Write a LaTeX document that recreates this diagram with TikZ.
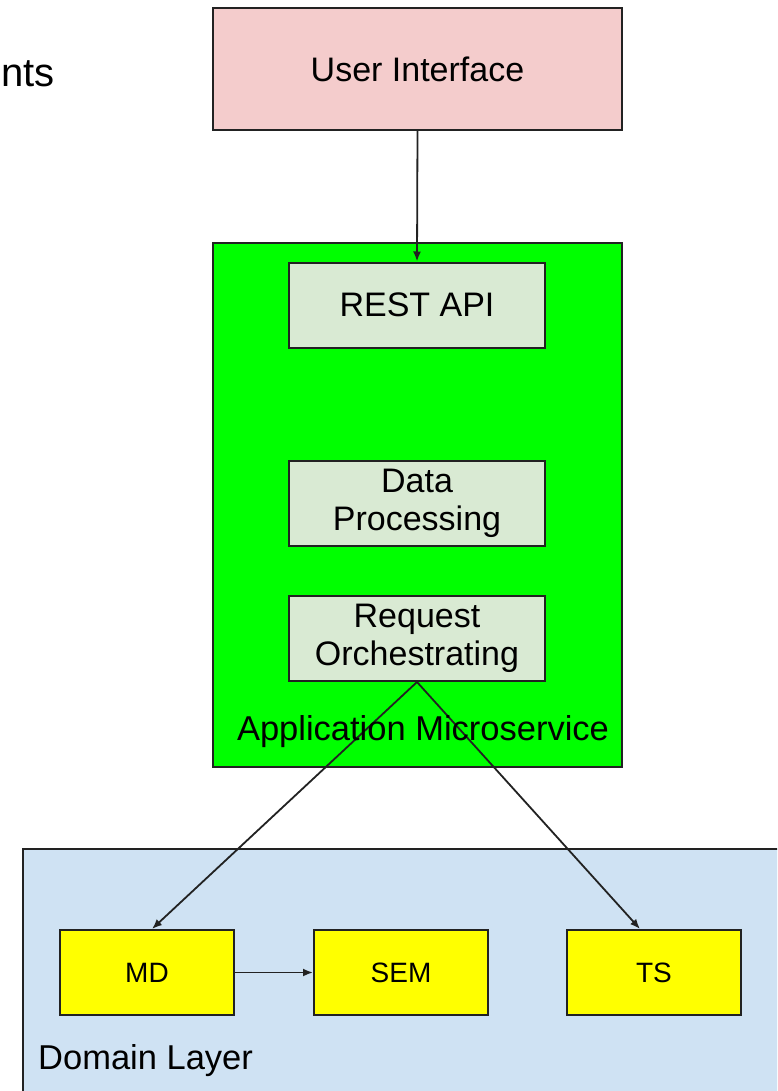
\documentclass[tikz,border=0pt]{standalone}
\usepackage{fontspec}
\setmainfont{Liberation Sans}
\usetikzlibrary{arrows.meta}
\definecolor{uipink}{HTML}{F4CCCC}
\definecolor{appgreen}{HTML}{00FF00}
\definecolor{modpale}{HTML}{D9EAD3}
\definecolor{domblue}{HTML}{CFE2F3}
\definecolor{compyellow}{HTML}{FFFF00}
\definecolor{edge}{HTML}{222222}
\tikzset{
  box/.style={draw=edge, line width=2pt, inner sep=0pt, align=center,
    font=\fontsize{34}{38}\selectfont},
  module/.style={box, fill=modpale, minimum width=256pt, minimum height=85pt},
  comp/.style={box, fill=compyellow, minimum width=174pt, minimum height=85pt,
    font=\fontsize{28}{32}\selectfont},
  caption/.style={inner sep=0pt, font=\fontsize{34.5}{38}\selectfont},
  link/.style={draw=edge, line width=1.8pt, -{Latex[length=10pt,width=8pt]}}
}
\begin{document}
\begin{tikzpicture}[x=1pt, y=-1pt]
  \clip (0,0) rectangle (777,1091);
  \fill[white] (0,0) rectangle (777,1091);

  % heading fragment at the top left
  \node[caption, anchor=base east, font=\fontsize{40}{46}\selectfont] (head) at (55,87) {nts};

  % presentation layer
  \node[box, fill=uipink, minimum width=409pt, minimum height=122pt] (ui) at (417.5,69) {User Interface};

  % application microservice container and its modules
  \node[box, fill=appgreen, minimum width=409pt, minimum height=524pt] (app) at (417.5,505) {};
  \node[module] (rest) at (417,305) {REST API};
  \node[module] (proc) at (417,503.5) {Data\\Processing};
  \node[module] (orch) at (417,638.5) {Request\\Orchestrating};

  % domain layer container and its components
  \node[box, fill=domblue, minimum width=790pt, minimum height=260pt, anchor=north west] (dom) at (22,848) {};
  \node[comp] (md) at (147,972.5) {MD};
  \node[comp] (sem) at (401,972.5) {SEM};
  \node[comp] (ts) at (654,972.5) {TS};

  % connectors
  \draw[link] (ui.south) -- (rest.north);
  \draw[link] (orch.south) -- ([xshift=5pt]md.north);
  \draw[link] (orch.south) -- ([xshift=-14pt]ts.north);
  \draw[link] (md.east) -- (sem.west);

  % container captions, drawn above the connectors
  \node[caption, anchor=base] (applbl) at (423,740) {Application Microservice};
  \node[caption, anchor=base west] (domlbl) at (38,1069) {Domain Layer};
\end{tikzpicture}
\end{document}
